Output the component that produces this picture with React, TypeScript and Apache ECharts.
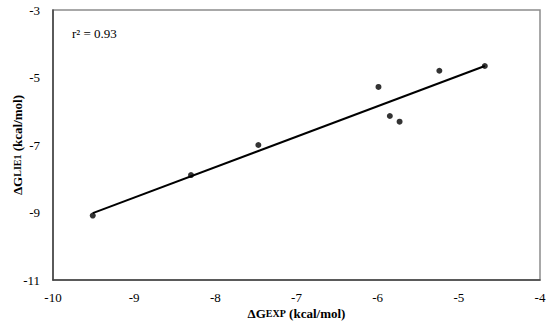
import React, { useEffect, useRef } from "react";
import * as echarts from "echarts";

const expValues = [-9.51, -8.3, -7.47, -5.99, -5.85, -5.73, -5.24, -4.68];
const lieValues = [-9.09, -7.89, -7.0, -5.28, -6.14, -6.31, -4.8, -4.66];
const trendX = [-9.51, -4.68];
const trendY = [-9.02, -4.66];
const r2Label = "r² = 0.93";

export default function App() {
  const ref = useRef<HTMLDivElement>(null);
  useEffect(() => {
    if (!ref.current) return;
    const chart = echarts.init(ref.current, null, { renderer: "svg" });
    const font = "Liberation Serif";
    chart.setOption({
      animation: false,
      textStyle: { fontFamily: font },
      grid: {
        left: 53,
        right: 10,
        top: 10,
        bottom: 49,
        show: true,
        borderColor: "#8c8c8c",
        borderWidth: 1.5,
        containLabel: false,
        outerBoundsMode: "none",
      },
      xAxis: {
        type: "value",
        min: -10,
        max: -4,
        interval: 1,
        splitLine: { show: false },
        axisTick: { show: false },
        axisLine: { lineStyle: { color: "#404040", width: 1.5 } },
        axisLabel: { color: "#000", fontSize: 13, fontFamily: font, margin: 11 },
        name: "{a|ΔG}{b|EXP}{a| (kcal/mol)}",
        nameLocation: "middle",
        nameGap: 27,
        nameMoveOverlap: false,
        nameTextStyle: {
          fontFamily: font,
          rich: {
            a: { fontSize: 13, fontWeight: "bold", fontFamily: font, color: "#000" },
            b: { fontSize: 10, fontWeight: "bold", fontFamily: font, color: "#000" },
          },
        },
      },
      yAxis: {
        type: "value",
        min: -11,
        max: -3,
        interval: 2,
        splitLine: { show: false },
        axisTick: { show: false },
        axisLine: { lineStyle: { color: "#404040", width: 1.5 } },
        axisLabel: { color: "#000", fontSize: 13, fontFamily: font, margin: 13 },
        name: "{a|ΔG}{b|LIE1}{a| (kcal/mol)}",
        nameLocation: "middle",
        nameGap: 29,
        nameMoveOverlap: false,
        nameTextStyle: {
          fontFamily: font,
          rich: {
            a: { fontSize: 13, fontWeight: "bold", fontFamily: font, color: "#000" },
            b: { fontSize: 10, fontWeight: "bold", fontFamily: font, color: "#000" },
          },
        },
      },
      graphic: [
        {
          type: "text",
          left: 72,
          top: 27,
          style: { text: r2Label, fontSize: 13, fontFamily: font, fill: "#000" },
        },
      ],
      series: [
        {
          type: "line",
          data: trendX.map((x, i) => [x, trendY[i]]),
          showSymbol: false,
          lineStyle: { color: "#000", width: 2 },
          z: 2,
        },
        {
          type: "scatter",
          data: expValues.map((x, i) => [x, lieValues[i]]),
          symbolSize: 6,
          itemStyle: { color: "#000" },
          z: 3,
        },
      ],
    });
    return () => chart.dispose();
  }, []);
  return <div ref={ref} style={{ width: 550, height: 329, position: "absolute", left: 0, top: 0 }} />;
}
